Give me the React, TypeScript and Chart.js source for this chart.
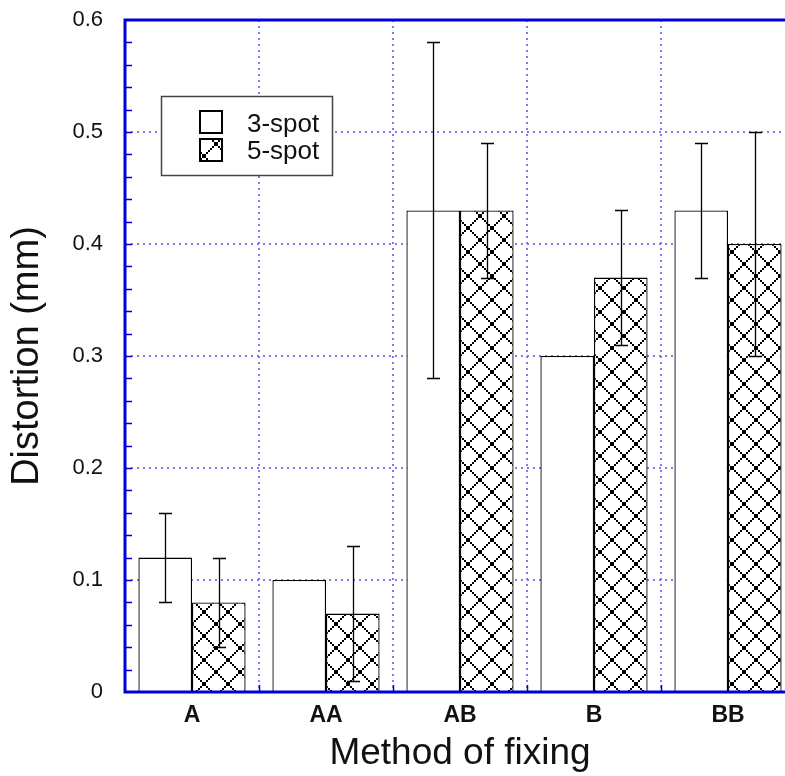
import React, { useEffect, useRef } from 'react';
import { Chart, registerables } from 'chart.js';

Chart.register(...registerables);

// ---- data ----
const categories = ['A', 'AA', 'AB', 'B', 'BB'];
const seriesNames = ['3-spot', '5-spot'];
const series3 = [0.12, 0.1, 0.43, 0.3, 0.43];
const series5 = [0.08, 0.07, 0.43, 0.37, 0.4];
const err3: (number | null)[] = [0.04, null, 0.15, null, 0.06];
const err5: (number | null)[] = [0.04, 0.06, 0.06, 0.06, 0.1];
const yMin = 0;
const yMax = 0.6;
const yStep = 0.1;
const yMinorStep = 0.02;
const xTitle = 'Method of fixing';
const yTitle = 'Distortion (mm)';

// ---- style ----
const FONT = '"Liberation Sans", Arial, Helvetica, sans-serif';
const AXIS = '#0000d8';
const GRID = 'rgba(110,110,245,0.9)';

function makePattern(): CanvasPattern | string {
  const s = 24;
  const c = document.createElement('canvas');
  c.width = s;
  c.height = s;
  const g = c.getContext('2d');
  if (!g) return '#888';
  g.fillStyle = '#fff';
  g.fillRect(0, 0, s, s);
  g.fillStyle = '#000';
  for (let i = 0; i < s; i += 2) {
    g.fillRect(i, i, 2, 2);
    g.fillRect((s - 2 - i + s) % s, i, 2, 2);
  }
  const p = g.createPattern(c, 'repeat');
  return p || '#888';
}

function drawErrorBars(chart: any) {
  const { ctx, scales } = chart;
  const y = scales.y;
  const all = [
    { vals: series3, errs: err3 },
    { vals: series5, errs: err5 },
  ];
  ctx.save();
  ctx.strokeStyle = '#000';
  ctx.lineWidth = 1.3;
  ctx.setLineDash([]);
  all.forEach((s, di) => {
    const meta = chart.getDatasetMeta(di);
    meta.data.forEach((bar: any, j: number) => {
      const e = s.errs[j];
      if (e == null) return;
      const v = s.vals[j];
      const px = Math.round(bar.x) + 0.5;
      const pt = Math.round(y.getPixelForValue(v + e)) + 0.5;
      const pb = Math.round(y.getPixelForValue(v - e)) + 0.5;
      const cap = 6.5;
      ctx.beginPath();
      ctx.moveTo(px, pt);
      ctx.lineTo(px, pb);
      ctx.moveTo(px - cap, pt);
      ctx.lineTo(px + cap, pt);
      ctx.moveTo(px - cap, pb);
      ctx.lineTo(px + cap, pb);
      ctx.stroke();
    });
  });
  ctx.restore();
}

function drawAxesFrame(chart: any) {
  const { ctx, chartArea: a, scales } = chart;
  const y = scales.y;
  const x = scales.x;
  ctx.save();
  ctx.setLineDash([]);
  ctx.strokeStyle = AXIS;
  ctx.lineWidth = 1.5;
  const n = Math.round((yMax - yMin) / yMinorStep);
  for (let k = 1; k < n; k++) {
    const v = yMin + k * yMinorStep;
    const py = Math.round(y.getPixelForValue(v)) + 0.5;
    ctx.beginPath();
    ctx.moveTo(a.left, py);
    ctx.lineTo(a.left + 7, py);
    ctx.stroke();
  }
  for (let i = 1; i < categories.length; i++) {
    const px = Math.round((x.getPixelForValue(i - 1) + x.getPixelForValue(i)) / 2) + 0.5;
    ctx.beginPath();
    ctx.moveTo(px, a.bottom);
    ctx.lineTo(px, a.bottom - 7);
    ctx.stroke();
  }
  ctx.lineWidth = 3;
  ctx.beginPath();
  ctx.moveTo(a.left, a.top);
  ctx.lineTo(a.left, a.bottom);
  ctx.moveTo(a.left - 1.5, a.top);
  ctx.lineTo(a.right + 10, a.top);
  ctx.moveTo(a.left - 1.5, a.bottom);
  ctx.lineTo(a.right + 10, a.bottom);
  ctx.stroke();
  ctx.restore();
}

function drawLegend(chart: any, pattern: CanvasPattern | string) {
  const { ctx } = chart;
  ctx.save();
  ctx.setLineDash([]);
  ctx.fillStyle = '#fff';
  ctx.fillRect(161, 96, 171, 79);
  ctx.strokeStyle = '#444';
  ctx.lineWidth = 1.5;
  ctx.strokeRect(161.5, 96.5, 171, 79);
  ctx.lineWidth = 2;
  ctx.strokeStyle = '#000';
  ctx.fillStyle = '#fff';
  ctx.fillRect(200, 111, 22, 22);
  ctx.strokeRect(200, 111, 22, 22);
  ctx.fillStyle = pattern as any;
  ctx.fillRect(200, 139, 22, 22);
  ctx.strokeRect(200, 139, 22, 22);
  ctx.fillStyle = '#111';
  ctx.font = `26px ${FONT}`;
  ctx.textAlign = 'left';
  ctx.textBaseline = 'alphabetic';
  ctx.fillText(seriesNames[0], 247, 132);
  ctx.fillText(seriesNames[1], 247, 159);
  ctx.restore();
}

export default function App() {
  const ref = useRef<HTMLCanvasElement | null>(null);

  useEffect(() => {
    const canvas = ref.current;
    if (!canvas) return;
    const pattern = makePattern();

    const decor = {
      id: 'decor',
      beforeDatasetsDraw(chart: any) {
        const { ctx, chartArea: a, scales } = chart;
        const y = scales.y;
        const x = scales.x;
        ctx.save();
        ctx.strokeStyle = GRID;
        ctx.lineWidth = 2;
        ctx.setLineDash([2, 4]);
        y.ticks.forEach((t: any) => {
          if (t.value <= yMin + 1e-9 || t.value >= yMax - 1e-9) return;
          const py = Math.round(y.getPixelForValue(t.value));
          ctx.beginPath();
          ctx.moveTo(a.left, py);
          ctx.lineTo(a.right + 10, py);
          ctx.stroke();
        });
        for (let i = 1; i < categories.length; i++) {
          const px = Math.round((x.getPixelForValue(i - 1) + x.getPixelForValue(i)) / 2);
          ctx.beginPath();
          ctx.moveTo(px, a.top);
          ctx.lineTo(px, a.bottom);
          ctx.stroke();
        }
        ctx.restore();
      },
      afterDatasetsDraw(chart: any) {
        drawErrorBars(chart);
        drawAxesFrame(chart);
        drawLegend(chart, pattern);
      },
    };

    const chart = new Chart(canvas, {
      type: 'bar',
      data: {
        labels: categories,
        datasets: [
          {
            label: seriesNames[0],
            data: series3,
            backgroundColor: '#ffffff',
            borderColor: '#000000',
            borderWidth: 1.3,
            categoryPercentage: 0.8,
            barPercentage: 1.0,
          },
          {
            label: seriesNames[1],
            data: series5,
            backgroundColor: pattern as any,
            borderColor: '#000000',
            borderWidth: 1.3,
            categoryPercentage: 0.8,
            barPercentage: 1.0,
          },
        ],
      },
      options: {
        responsive: false,
        animation: false,
        devicePixelRatio: 1,
        layout: { padding: { left: 0, top: 20, right: 5, bottom: 0 } },
        plugins: {
          legend: { display: false },
          tooltip: { enabled: false },
          title: { display: false },
        },
        scales: {
          x: {
            offset: true,
            grid: { display: false, drawTicks: false },
            border: { display: false },
            ticks: {
              color: '#111',
              padding: 10,
              font: { family: FONT, size: 23, weight: 'bold' },
              maxRotation: 0,
            },
            title: {
              display: true,
              text: xTitle,
              color: '#111',
              font: { family: FONT, size: 37 },
              padding: { top: 0, bottom: 0 },
            },
            afterFit: (scale: any) => {
              scale.height = 84;
              scale.paddingLeft = 0;
              scale.paddingRight = 0;
            },
          },
          y: {
            min: yMin,
            max: yMax,
            grid: { display: false, drawTicks: false },
            border: { display: false },
            ticks: {
              stepSize: yStep,
              color: '#111',
              padding: 22,
              font: { family: FONT, size: 22 },
              callback: (v: any) => (Number(v) === 0 ? '0' : Number(v).toFixed(1)),
            },
            title: {
              display: true,
              text: yTitle,
              color: '#111',
              font: { family: FONT, size: 38 },
              padding: { top: 5, bottom: 0 },
            },
            afterFit: (scale: any) => {
              scale.width = 125;
              scale.paddingTop = 0;
              scale.paddingBottom = 0;
            },
          },
        },
      },
      plugins: [decor],
    });

    return () => {
      chart.destroy();
    };
  }, []);

  return (
    <div
      style={{
        position: 'fixed',
        left: 0,
        top: 0,
        width: 785,
        height: 776,
        overflow: 'hidden',
        background: '#fff',
      }}
    >
      <canvas ref={ref} width={800} height={776} style={{ display: 'block', width: 800, height: 776 }} />
    </div>
  );
}
